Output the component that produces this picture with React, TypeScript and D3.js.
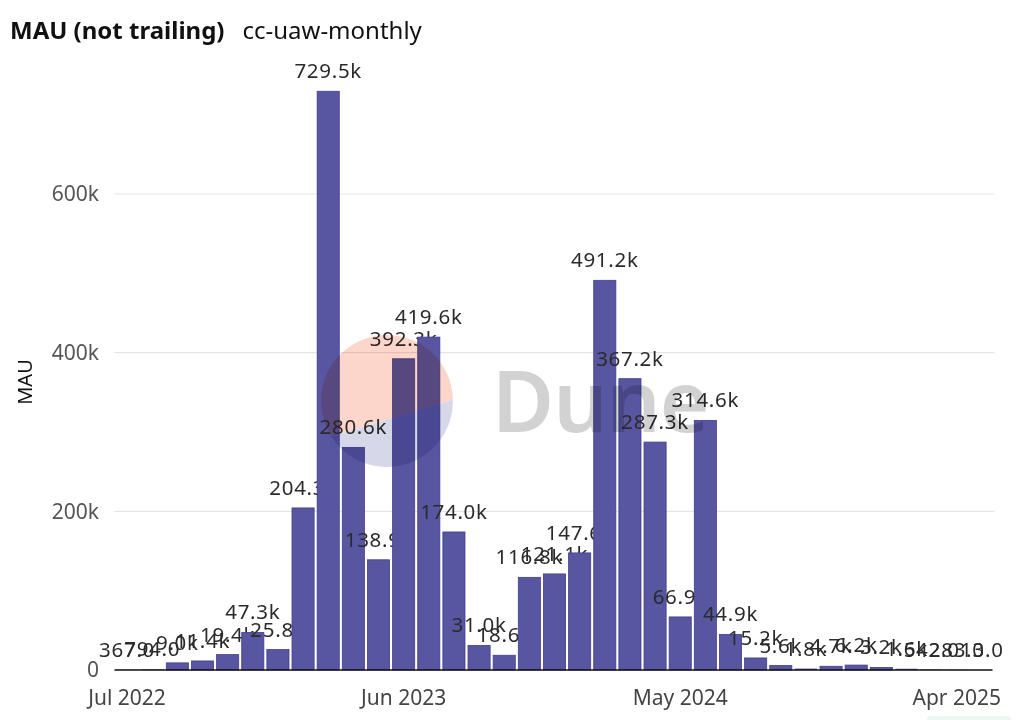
import React from 'react';
import * as d3 from 'd3';

// Monthly active users, Jul 2022 – May 2025
const MONTHS = [
  '2022-07', '2022-08', '2022-09', '2022-10', '2022-11', '2022-12',
  '2023-01', '2023-02', '2023-03', '2023-04', '2023-05', '2023-06',
  '2023-07', '2023-08', '2023-09', '2023-10', '2023-11', '2023-12',
  '2024-01', '2024-02', '2024-03', '2024-04', '2024-05', '2024-06',
  '2024-07', '2024-08', '2024-09', '2024-10', '2024-11', '2024-12',
  '2025-01', '2025-02', '2025-03', '2025-04', '2025-05',
];

const MAU = [
  367, 794, 9000, 11400, 19400, 47300,
  25800, 204300, 729500, 280600, 138900, 392300,
  419600, 174000, 31000, 18600, 116800, 121100,
  147600, 491200, 367200, 287300, 66900, 314600,
  44900, 15200, 5600, 1800, 4700, 6200,
  3200, 1600, 542, 283, 13,
];

const X_TICKS = ['2022-07', '2023-06', '2024-05', '2025-04'];
const X_TICK_LABELS = ['Jul 2022', 'Jun 2023', 'May 2024', 'Apr 2025'];
const Y_TICKS = [0, 200000, 400000, 600000];

const BAR_FILL = '#5855a1';
const BAR_STROKE = '#423e8f';
const FONT = '"Noto Sans", "Open Sans", sans-serif';

const fmt = (v: number) => (v >= 1000 ? `${(v / 1000).toFixed(1)}k` : v.toFixed(1));
const fmtAxis = (v: number) => (v === 0 ? '0' : `${v / 1000}k`);

export default function App() {
  const width = 1024;
  const height = 720;
  const left = 114.5;
  const right = 994.5;

  const x = d3.scaleBand<string>()
    .domain(MONTHS)
    .range([left, right])
    .paddingInner(0.12)
    .paddingOuter(0.06);

  const y = d3.scaleLinear()
    .domain([0, 600000])
    .range([670, 194]);

  // watermark: circle split by a slanted chord
  const cx = 387, cy = 401, r = 66;
  const a1 = Math.atan2(437 - cy, 330 - cx);
  const a2 = Math.atan2(400 - cy, 454 - cx);
  const p1 = [cx + r * Math.cos(a1), cy + r * Math.sin(a1)];
  const p2 = [cx + r * Math.cos(a2), cy + r * Math.sin(a2)];
  const upper = `M${p1[0]},${p1[1]} A${r},${r} 0 1 1 ${p2[0]},${p2[1]} Z`;
  const lower = `M${p1[0]},${p1[1]} A${r},${r} 0 0 0 ${p2[0]},${p2[1]} Z`;

  return (
    <svg
      width={width}
      height={height}
      style={{ position: 'absolute', left: 0, top: 0, background: '#fff' }}
      fontFamily={FONT}
    >
      <rect width={width} height={height} fill="#fff" />

      {/* title */}
      <text x={10} y={39} fontSize={24} fill="#111">
        <tspan fontWeight={700}>MAU (not trailing)</tspan>
        <tspan dx={18} fontWeight={400}>cc-uaw-monthly</tspan>
      </text>

      {/* grid */}
      {Y_TICKS.filter(t => t > 0).map(t => (
        <line key={t} x1={left} x2={right} y1={y(t)} y2={y(t)} stroke="#e5e5e5" strokeWidth={1.2} />
      ))}
      {Y_TICKS.map(t => (
        <text key={t} x={99} y={y(t)} dy="0.35em" textAnchor="end" fontSize={21} fill="#555">
          {fmtAxis(t)}
        </text>
      ))}
      <text
        transform={`translate(32,382) rotate(-90)`}
        textAnchor="middle"
        fontSize={20}
        fill="#111"
      >
        MAU
      </text>

      {/* bars with labels, drawn in order so later bars overlap earlier labels */}
      {MONTHS.map((m, i) => {
        const v = MAU[i];
        const bx = x(m) ?? 0;
        const top = y(v);
        return (
          <g key={m}>
            <rect
              x={bx}
              y={top}
              width={x.bandwidth()}
              height={y(0) - top}
              fill={BAR_FILL}
              stroke={BAR_STROKE}
              strokeWidth={v > 3000 ? 0.8 : 0}
            />
            <text
              x={bx + x.bandwidth() / 2}
              y={top - 13}
              textAnchor="middle"
              fontSize={20.5}
              letterSpacing={0.7}
              fill="#2b2b2b"
            >
              {fmt(v)}
            </text>
          </g>
        );
      })}

      {/* x axis */}
      <line x1={left} x2={right - 2} y1={y(0)} y2={y(0)} stroke="#111" strokeWidth={1.5} />
      {X_TICKS.map((m, i) => (
        <text
          key={m}
          x={(x(m) ?? 0) + x.bandwidth() / 2}
          y={705}
          textAnchor="middle"
          fontSize={21}
          fill="#444"
        >
          {X_TICK_LABELS[i]}
        </text>
      ))}

      {/* Dune watermark */}
      <g style={{ mixBlendMode: 'multiply' }}>
        <path d={upper} fill="#fcd6cb" />
        <path d={lower} fill="#d6d7e9" />
        <text x={492} y={432} fontSize={85} fontWeight={600} fill="#d2d2d2" letterSpacing={-1}>
          Dune
        </text>
      </g>

      <rect x={927} y={716} width={84} height={8} rx={4} fill="#e9f8f1" />
    </svg>
  );
}
